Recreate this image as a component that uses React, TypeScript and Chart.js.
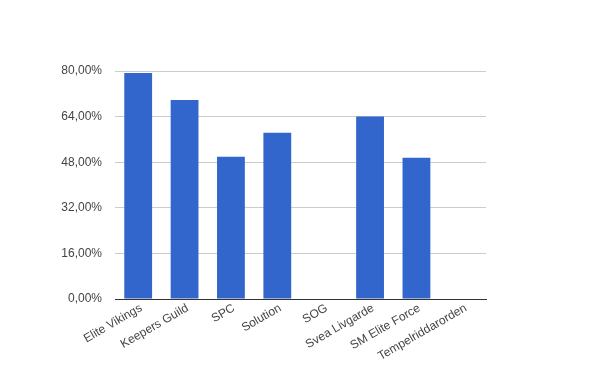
import React, { useEffect, useRef } from "react";
import { Chart, registerables } from "chart.js";

Chart.register(...registerables);

const categories = [
  "Elite Vikings",
  "Keepers Guild",
  "SPC",
  "Solution",
  "SOG",
  "Svea Livgarde",
  "SM Elite Force",
  "Tempelriddarorden",
];
const values = [79.3, 69.8, 49.9, 58.3, 0, 64.0, 49.6, 0];
const yTicks = [0, 16, 32, 48, 64, 80];

const fmt = (v: number) => v.toFixed(2).replace(".", ",") + "%";

export default function App() {
  const ref = useRef<HTMLCanvasElement | null>(null);
  useEffect(() => {
    document.body.style.margin = "0";
    const ctx = ref.current!;
    const font = { family: "'Liberation Sans', Arial, sans-serif", size: 12 };
    const chart = new Chart(ctx, {
      type: "bar",
      data: {
        labels: categories,
        datasets: [
          {
            data: values,
            backgroundColor: "#3366cc",
            borderWidth: 0,
            barPercentage: 0.6,
            categoryPercentage: 1,
          },
        ],
      },
      options: {
        animation: false,
        responsive: false,
        layout: { padding: { left: 0, top: 71, right: 114, bottom: 0 } },
        plugins: { legend: { display: false }, tooltip: { enabled: false } },
        scales: {
          x: {
            grid: { display: false },
            border: { display: true, color: "#333333", width: 1 },
            ticks: {
              color: "#444444",
              font,
              minRotation: 30,
              maxRotation: 30,
              autoSkip: false,
              padding: -6,
              labelOffset: 3,
            },
            afterFit: (s: any) => {
              s.height = 72;
            },
          },
          y: {
            min: 0,
            max: 80,
            afterBuildTicks: (s: any) => {
              s.ticks = yTicks.map((v) => ({ value: v }));
            },
            grid: { color: "#cccccc", drawTicks: false },
            border: { display: false },
            ticks: {
              color: "#444444",
              font,
              padding: 13,
              callback: (v: any) => fmt(Number(v)),
            },
            afterFit: (s: any) => {
              s.width = 115;
            },
          },
        },
      },
    });
    return () => chart.destroy();
  }, []);
  return (
    <div style={{ position: "absolute", left: 0, top: 0, width: 600, height: 371 }}>
      <canvas ref={ref} width={600} height={371} style={{ width: 600, height: 371 }} />
    </div>
  );
}
